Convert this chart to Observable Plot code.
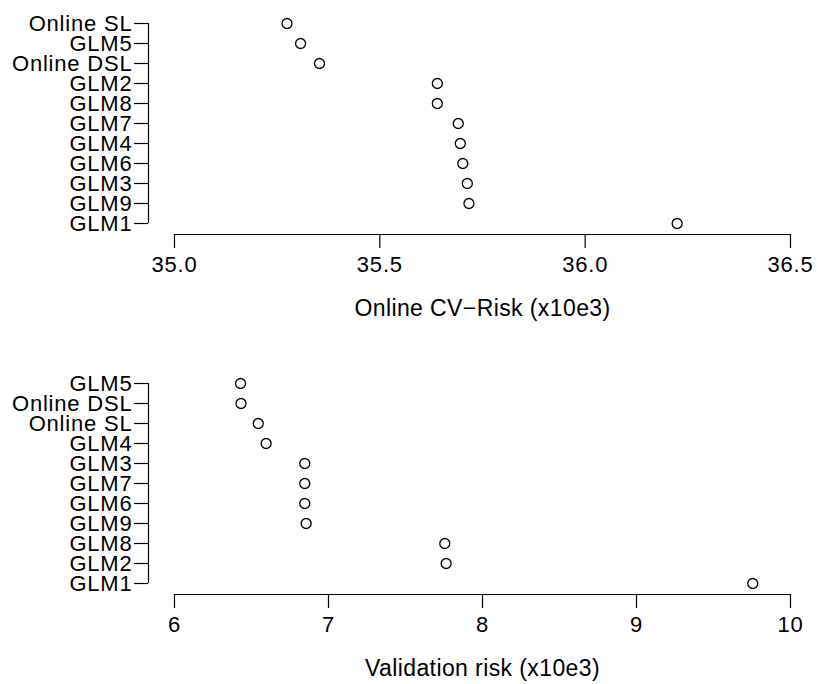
<!DOCTYPE html>
<html>
<head>
<meta charset="utf-8">
<script src="https://cdn.jsdelivr.net/npm/d3@7"></script>
<script src="https://cdn.jsdelivr.net/npm/@observablehq/plot@0.6"></script>
<style>
  html, body { margin: 0; padding: 0; background: white; }
  #chart svg { display: block; }
  #chart svg text { letter-spacing: 0.8px; }
  #chart g[aria-label="x-axis label"] text { letter-spacing: 0.4px; font-size: 23px; }
</style>
</head>
<body>
<div id="chart"></div>
<script>
// Top panel: online cross-validated risk (x10e3)
const cvCategories = ["Online SL", "GLM5", "Online DSL", "GLM2", "GLM8", "GLM7", "GLM4", "GLM6", "GLM3", "GLM9", "GLM1"];
const cvValues = [35.274, 35.307, 35.353, 35.640, 35.640, 35.691, 35.696, 35.702, 35.713, 35.717, 36.224];
const cvTicks = [35.0, 35.5, 36.0, 36.5];
const cvLabel = "Online CV\u2212Risk (x10e3)";

// Bottom panel: validation risk (x10e3)
const valCategories = ["GLM5", "Online DSL", "Online SL", "GLM4", "GLM3", "GLM7", "GLM6", "GLM9", "GLM8", "GLM2", "GLM1"];
const valValues = [6.429, 6.432, 6.544, 6.595, 6.846, 6.846, 6.846, 6.855, 7.755, 7.764, 9.755];
const valTicks = [6, 7, 8, 9, 10];
const valLabel = "Validation risk (x10e3)";

const FONT = "'Liberation Sans', Arial, Helvetica, sans-serif";

function panel(cats, vals, ticks, fmt, label, height) {
  const data = cats.map((c, i) => ({name: c, value: vals[i]}));
  return Plot.plot({
    width: 818,
    height,
    marginLeft: 174,
    marginRight: 28,
    marginTop: 21,
    marginBottom: height - 234,
    x: {domain: [ticks[0], ticks[ticks.length - 1]]},
    y: {type: "point", domain: cats, range: [21, 225], padding: 0},
    style: {fontFamily: FONT, fontSize: "22px", background: "white", color: "black", overflow: "visible"},
    marks: [
      Plot.frame({anchor: "bottom", stroke: "black", strokeWidth: 1.2}),
      Plot.axisX({ticks, tickFormat: fmt, tickSize: 14, tickPadding: 8, fontSize: 22, strokeWidth: 1.2,
                  label, labelAnchor: "center", labelOffset: 81, labelArrow: "none"}),
      Plot.axisY({tickSize: 14, tickPadding: 2, dx: -26, fontSize: 22, strokeWidth: 1.2, label: null}),
      Plot.ruleX([0], {x: () => ticks[0], y1: () => cats[0], y2: () => cats[cats.length - 1], dx: -26, stroke: "black", strokeWidth: 1.2}),
      Plot.dot(data, {x: "value", y: "name", r: 5, stroke: "black", fill: "none", strokeWidth: 1.3})
    ]
  });
}

const chart = document.getElementById("chart");
chart.appendChild(panel(cvCategories, cvValues, cvTicks, d3.format(".1f"), cvLabel, 360));
chart.appendChild(panel(valCategories, valValues, valTicks, d3.format("d"), valLabel, 324));
</script>
</body>
</html>
